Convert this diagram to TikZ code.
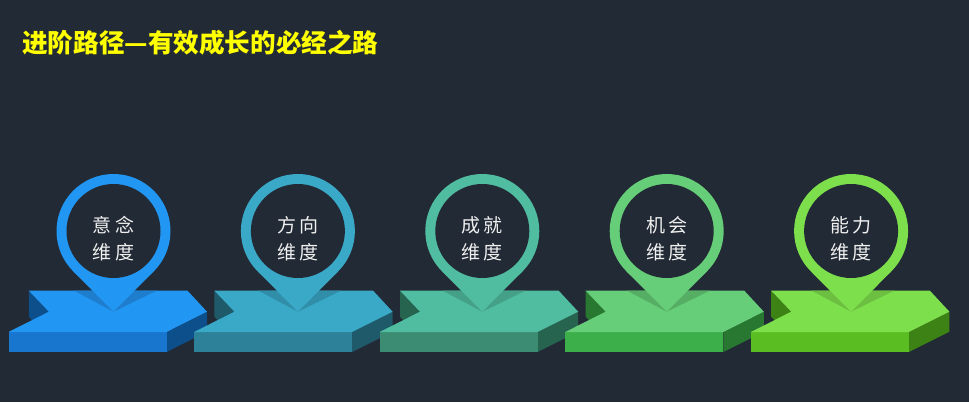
\documentclass[tikz,border=0pt]{standalone}
\usepackage{fontspec}
\newfontfamily\cjk{Noto Sans CJK SC}
\usepackage{tikz}
\usetikzlibrary{positioning}

\definecolor{bg}{HTML}{222A35}
\definecolor{titlecol}{HTML}{FFFF00}
\definecolor{top1}{HTML}{2196F3}\definecolor{front1}{HTML}{1976CF}
\definecolor{side1}{HTML}{0D4F8B}\definecolor{shade1}{HTML}{1E7DCC}
\definecolor{top2}{HTML}{3AA9C8}\definecolor{front2}{HTML}{2D8299}
\definecolor{side2}{HTML}{1E5A6A}\definecolor{shade2}{HTML}{318EA8}
\definecolor{top3}{HTML}{50BCA0}\definecolor{front3}{HTML}{3C8C73}
\definecolor{side3}{HTML}{266450}\definecolor{shade3}{HTML}{44A086}
\definecolor{top4}{HTML}{66CD78}\definecolor{front4}{HTML}{3CAF4B}
\definecolor{side4}{HTML}{287832}\definecolor{shade4}{HTML}{56AE64}
\definecolor{top5}{HTML}{7EDF4C}\definecolor{front5}{HTML}{5ABE23}
\definecolor{side5}{HTML}{3C8214}\definecolor{shade5}{HTML}{6CBF40}

\tikzset{
  lbl/.style={text=white!94!black,font={\cjk\fontsize{19}{27}\selectfont},align=center,inner sep=0pt},
  headline/.style={text=titlecol,font={\cjk\bfseries\fontsize{25.6}{30}\selectfont},anchor=west,inner sep=0pt}
}

\begin{document}
\begin{tikzpicture}[x=1pt,y=-1pt]
\fill[bg] (0,0) rectangle (969,402);
\useasboundingbox (0,0) rectangle (969,402);

\node[headline] (title) at (22,43) {进阶路径—有效成长的必经之路};

% steps: block, shadow, pin, label
\foreach \k/\c/\txt in {0/1/意\,念\\维\,度,1/2/方\,向\\维\,度,2/3/成\,就\\维\,度,3/4/机\,会\\维\,度,4/5/能\,力\\维\,度}{
  \pgfmathsetmacro\x{8.5+185.6*\k}
  \pgfmathsetmacro\p{113.5+184.4*\k}
  \fill[side\c] (\x+20.3,290.7) -- (\x+40.3,311.7) -- (\x+40.3,337.7) -- (\x+20.3,316.7) -- cycle;
  \fill[side\c] (\x+158,332) -- (\x+198.5,311.7) -- (\x+198.5,331.7) -- (\x+158,352) -- cycle;
  \fill[front\c] (\x,332) rectangle (\x+158,352);
  \fill[top\c] (\x,332) -- (\x+40.3,311.7) -- (\x+20.3,290.7) -- (\x+179,290.7)
    -- (\x+198.5,311.7) -- (\x+158,332) -- cycle;
  \fill[shade\c] (\p-39.5,290.7) -- (\p,311.7) -- (\p+43,290.7) -- cycle;
  \fill[top\c] (\p,231) circle[radius=57pt];
  \fill[top\c] (\p-40.3,271.3) -- (\p,311.7) -- (\p+40.3,271.3) -- cycle;
  \fill[bg] (\p,231) circle[radius=47pt];
  \node[lbl] (t\c) at (\p,239) {\txt};
}
\end{tikzpicture}
\end{document}
